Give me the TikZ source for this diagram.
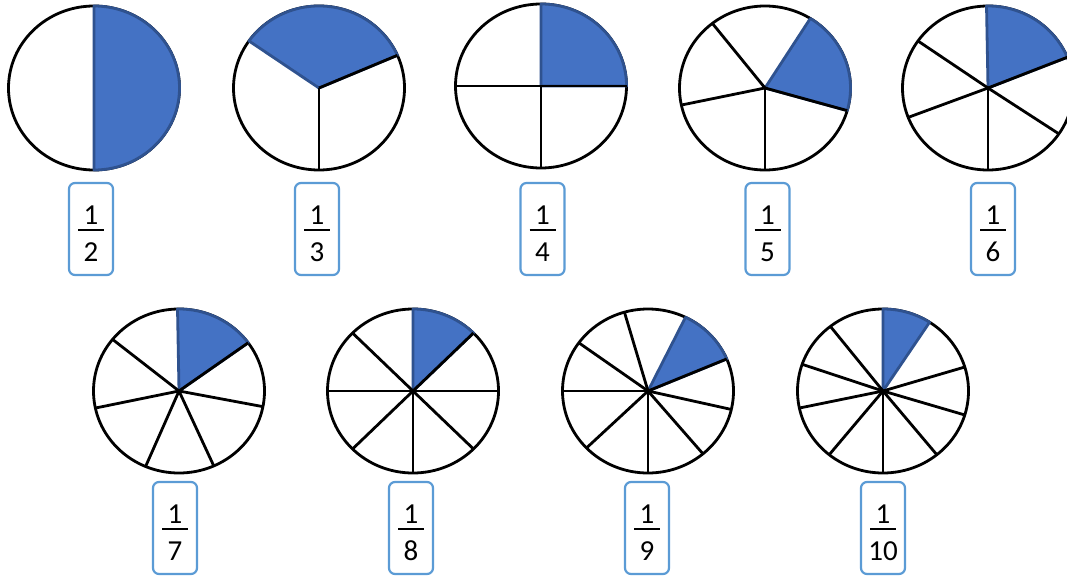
\documentclass[tikz,border=0pt]{standalone}
\usepackage{fontspec}
\setmainfont{Carlito}
\usetikzlibrary{calc}
\definecolor{pieblue}{RGB}{68,114,196}
\definecolor{pieedge}{RGB}{47,82,143}
\definecolor{boxblue}{RGB}{91,155,213}

\begin{document}
\begin{tikzpicture}[
  x=1pt, y=1pt,
  font=\fontsize{29}{34}\selectfont,
  pie/.style={draw=black, line width=2.8pt, fill=white},
  slice/.style={fill=pieblue, draw=pieedge, line width=2.8pt, line join=round},
  spoke/.style={draw=black, line width=2.8pt},
  fracbox/.style={draw=boxblue, line width=2.2pt, rounded corners=6pt, fill=white,
                  minimum width=44pt, minimum height=92pt, inner sep=0pt},
  digit/.style={inner sep=0pt, anchor=base},
  fracbar/.style={draw=black, line width=2.2pt},
]
\clip (0,0) rectangle (1067,-575);

% ---- pie centres ----
\coordinate (p2) at (94,-88);
\coordinate (p3) at (319,-88);
\coordinate (p4) at (541,-86);
\coordinate (p5) at (765,-88);
\coordinate (p6) at (988,-88);
\coordinate (p7) at (179,-391);
\coordinate (p8) at (413,-391);
\coordinate (p9) at (648,-391);
\coordinate (p10) at (883,-391);

% ---- one half ----
\draw[pie] (p2) ellipse[x radius=85.5pt, y radius=82pt];
\path[slice] (p2) -- +(-90:85.5pt and 82pt)
  arc[start angle=-90, end angle=90, x radius=85.5pt, y radius=82pt] -- cycle;

% ---- the other pies: shaded slice, then black spokes ----
\foreach \p/\from/\to/\spokes in {
  p3/23.5/145/{23.5,270},
  p4/0/90/{0,180,270},
  p5/-16/58/{-16,270,192,128},
  p6/22/91/{22,-34,270,201,145},
  p7/36/91/{36,-11,-66,247,192,141},
  p8/45/90/{45,0,-45,270,225,180,135},
  p9/23/64/{23,-13,-50,270,224,180,144,106},
  p10/57/90/{17,-17,-51,270,231,192,161,128}}{
  \draw[pie] (\p) ellipse[x radius=85.5pt, y radius=82pt];
  \path[slice] (\p) -- +(\from:85.5pt and 82pt)
    arc[start angle=\from, end angle=\to, x radius=85.5pt, y radius=82pt] -- cycle;
  \foreach \a in \spokes {\draw[spoke] (\p) -- +(\a:85.5pt and 82pt);}
}

% ---- fraction labels ----
\foreach \d/\x/\y in {2/91/229, 3/317/229, 4/542.5/229, 5/767.5/229, 6/993/229,
                      7/175/528, 8/411/528, 9/647/528, 10/883/528}{
  \node[fracbox] (b\d) at (\x,-\y) {};
  \node[digit] (n\d) at ($(b\d)+(0,5)$) {1};
  \node[digit] (d\d) at ($(b\d)+(0,-32)$) {\d};
  \draw[fracbar] ($(b\d)+(-13,-1)$) -- ($(b\d)+(13,-1)$);
}

\end{tikzpicture}
\end{document}
